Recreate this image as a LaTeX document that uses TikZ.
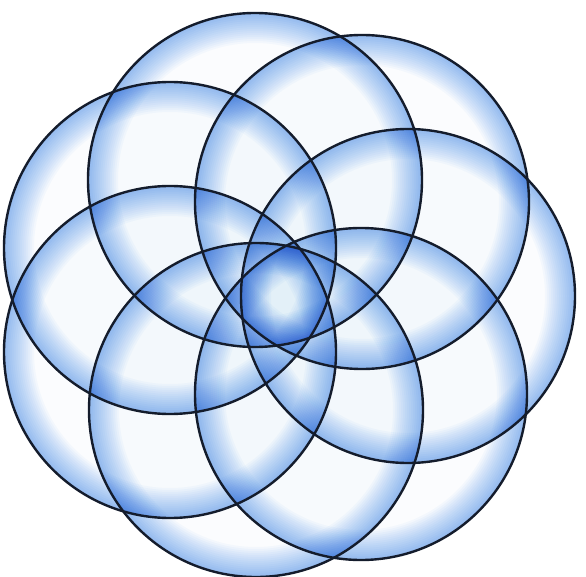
\documentclass[tikz,border=0pt]{standalone}
\definecolor{rimblue}{RGB}{70,152,232}
\definecolor{edgecol}{RGB}{20,28,44}
\tikzset{
  rimband/.style={rimblue, blend mode=multiply},
  outline/.style={edgecol, line width=2.4pt}
}
\begin{document}
\begin{tikzpicture}[x=1pt,y=-1pt]
\useasboundingbox (0,0) rectangle (586,577);
\fill[white] (0,0) rectangle (586,577);
\foreach \cx/\cy/\r in {255/180/167,362/202/167,408/296/167,361/394/166,256/410/167,170/352/166,170/248/166}{
  \begin{scope}
    \clip (\cx,\cy) circle (\r);
    \fill[rimband, fill opacity=0.02] (\cx,\cy) circle (\r);
    \foreach \w in {4,8,...,60}{
      \draw[rimband, line width=\w pt, draw opacity=0.042] (\cx,\cy) circle (\r);
    }
  \end{scope}
}
\foreach \cx/\cy/\r in {255/180/167,362/202/167,408/296/167,361/394/166,256/410/167,170/352/166,170/248/166}{
  \draw[outline] (\cx,\cy) circle (\r);
}
\end{tikzpicture}
\end{document}
